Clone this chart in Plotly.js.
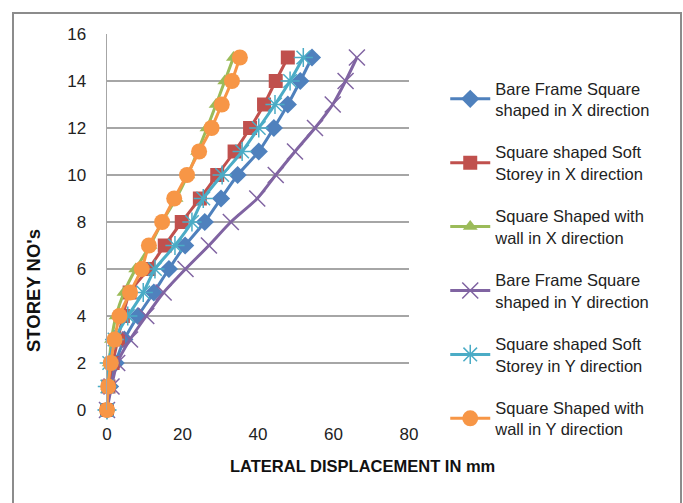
<!DOCTYPE html>
<html>
<head>
<meta charset="utf-8">
<script src="https://cdn.plot.ly/plotly-3.0.1.min.js"></script>
<style>
  html, body { margin: 0; padding: 0; background: #fff; }
  #wrap { position: relative; width: 683px; height: 503px; overflow: hidden; }
  #chart { position: absolute; left: 0; top: 0; width: 683px; height: 503px; }
  #frame { position: absolute; left: 12px; top: 12px; width: 666px; height: 520px;
           border: 2px solid #8c8c8c; pointer-events: none; }
</style>
</head>
<body>
<div id="wrap">
  <div id="chart"></div>
  <div id="frame"></div>
</div>
<script>
const storeys = [0, 1, 2, 3, 4, 5, 6, 7, 8, 9, 10, 11, 12, 13, 14, 15];

const bareFrameX  = [0, 0.8, 2.3, 4.6, 8.2, 12.4, 16.4, 20.7, 25.9, 30.2, 34.6, 40.2, 44.2, 47.9, 51.2, 54.3];
const softStoreyX = [0, 0.4, 1.5, 2.9, 4.2, 6.0, 11.0, 15.3, 19.8, 24.6, 29.2, 33.8, 37.9, 41.6, 44.7, 47.9];
const wallX       = [0, 0.2, 0.6, 1.2, 2.4, 4.5, 7.6, 11.4, 14.6, 18.3, 21.4, 24.0, 26.5, 28.9, 31.2, 33.5];
const bareFrameY  = [0, 1.2, 2.7, 6.1, 10.4, 15.0, 20.8, 27.0, 32.8, 39.8, 44.7, 49.8, 55.1, 59.8, 63.2, 66.2];
const softStoreyY = [0, 0.1, 0.6, 2.0, 5.5, 9.6, 12.7, 18.0, 22.5, 25.5, 30.5, 35.8, 40.2, 44.5, 48.5, 52.0];
const wallY       = [0, 0.3, 1.0, 2.0, 3.3, 6.1, 9.2, 11.1, 14.6, 17.8, 21.2, 24.4, 27.7, 30.4, 33.1, 35.2];

const seriesNames = [
  "Bare Frame Square<br>shaped in X direction",
  "Square shaped Soft<br>Storey in X direction",
  "Square Shaped with<br>wall in X direction",
  "Bare Frame Square<br>shaped in Y direction",
  "Square shaped Soft<br>Storey in Y direction",
  "Square Shaped with<br>wall in Y direction"
];
const xTickVals = [0, 20, 40, 60, 80];
const yTickVals = [0, 2, 4, 6, 8, 10, 12, 14, 16];
const xTitle = "LATERAL DISPLACEMENT IN mm";
const yTitle = "STOREY NO's";

const seriesData = [bareFrameX, softStoreyX, wallX, bareFrameY, softStoreyY, wallY];
const colors = ["#4F81BD", "#C0504D", "#9BBB59", "#8064A2", "#4BACC6", "#F79646"];
const symbols = ["diamond", "square", "triangle-up", "x-thin-open", "asterisk-open", "circle"];
const sizes = [14, 14, 13, 16, 16, 16];

const traces = seriesData.map((xs, i) => ({
  type: "scatter",
  mode: "lines+markers",
  x: xs,
  y: storeys,
  name: seriesNames[i],
  legendgroup: "g" + i,
  line: { color: colors[i], width: 3, shape: "spline", smoothing: 0.6 },
  marker: {
    symbol: symbols[i],
    size: sizes[i],
    color: colors[i],
    line: { color: colors[i], width: (i === 3 || i === 4) ? 1.5 : 0 }
  },
  cliponaxis: false
}));

const font = "Liberation Sans, Arial, sans-serif";

const layout = {
  width: 683,
  height: 503,
  margin: { l: 107, r: 274, t: 34, b: 93 },
  paper_bgcolor: "#ffffff",
  plot_bgcolor: "#ffffff",
  font: { family: font, size: 17, color: "#222" },
  showlegend: true,
  legend: {
    x: 1.12, y: 0.902, xanchor: "left", yanchor: "top",
    font: { family: font, size: 16.5, color: "#222" },
    tracegroupgap: 18,
    itemwidth: 40,
    bgcolor: "rgba(0,0,0,0)"
  },
  xaxis: {
    range: [0, 80],
    tickvals: xTickVals,
    ticks: "",
    showgrid: false,
    zeroline: false,
    showline: false,
    tickfont: { family: font, size: 17, color: "#222" },
    ticklabelstandoff: 12
  },
  yaxis: {
    range: [0, 16],
    tickvals: yTickVals,
    ticks: "",
    showgrid: true,
    gridcolor: "#a6a6a6",
    gridwidth: 1.5,
    zeroline: false,
    showline: true,
    linecolor: "#a6a6a6",
    linewidth: 1.5,
    tickfont: { family: font, size: 17, color: "#222" },
    ticklabelstandoff: 16
  },
  annotations: [
    {
      text: xTitle, xref: "paper", yref: "paper",
      x: (362 - 107) / 302, y: -(466 - 410) / 376,
      xanchor: "center", yanchor: "middle", showarrow: false,
      font: { family: font, size: 16.5, color: "#111", weight: "bold" }
    },
    {
      text: yTitle, xref: "paper", yref: "paper",
      x: (33 - 107) / 302, y: (410 - 291) / 376,
      xanchor: "center", yanchor: "middle", showarrow: false, textangle: -90,
      font: { family: font, size: 18.5, color: "#111", weight: "bold" }
    }
  ]
};

Plotly.newPlot("chart", traces, layout, { displayModeBar: false, staticPlot: true });
</script>
</body>
</html>
